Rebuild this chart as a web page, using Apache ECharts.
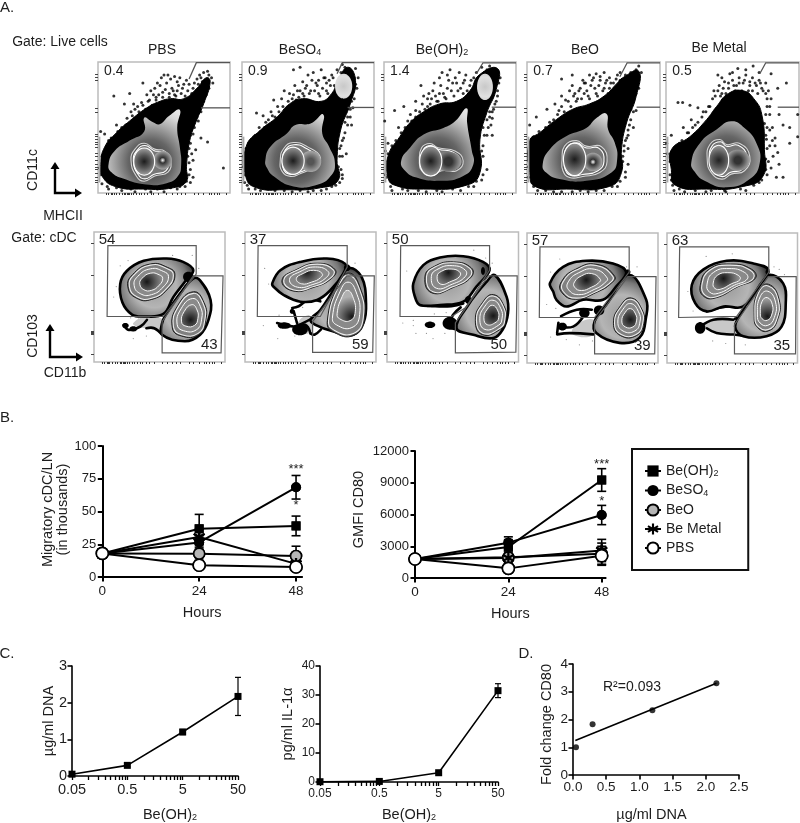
<!DOCTYPE html>
<html><head><meta charset="utf-8"><title>Chart</title>
<style>html,body{margin:0;padding:0;background:#fff}#c{width:800px;height:823px}</style>
<script src="https://cdn.jsdelivr.net/npm/echarts@6/dist/echarts.min.js"></script></head>
<body><div id="c"></div>
<script>
/* ---------- Panel B data ---------- */
const hours=[0,24,48];
const seriesNames=['Be(OH)2','BeSO4','BeO','Be Metal','PBS'];
const migBeOH=[18,36.8,39], migBeOHErr=[3.5,11,7.5];
const migBeSO=[18,26.4,68.5], migBeSOErr=[3.5,5,9];
const migBeO=[18,17.8,16], migBeOErr=[3.5,5,7.5];
const migMetal=[18,30.5,10], migMetalErr=[3.5,6,3];
const migPBS=[18,9,7.6], migPBSErr=[3.5,1.5,1.5];
const cd80BeOH=[1800,2930,9260], cd80BeOHErr=[150,700,1070];
const cd80BeSO=[1800,3340,5950], cd80BeSOErr=[150,550,910];
const cd80BeO=[1800,1950,2300], cd80BeOErr=[150,500,1000];
const cd80Metal=[1800,1900,2600], cd80MetalErr=[150,300,1050];
const cd80PBS=[1800,910,2100], cd80PBSErr=[150,200,900];
/* ---------- Panel C / D data ---------- */
const doses=[0.05,0.5,5,50];
const doseLabels=[0.05,0.5,5,50];
const doseTicks=[0.05,0.1,0.15,0.2,0.25,0.3,0.35,0.4,0.45,0.5,1,1.5,2,2.5,3,3.5,4,4.5,5,10,15,20,25,30,35,40,45,50];
const dnaVals=[0.05,0.29,1.2,2.17], dnaErr=[0.03,0.04,0.07,0.52];
const il1Vals=[0.1,0.2,3.2,31.5], il1Err=[0.1,0.1,0.3,2.4];
const foldX=[0.045,0.295,1.195,2.16], foldY=[1,1.83,2.33,3.31];
const fitX=[0.035,2.16], fitY=[1.24,3.31];
/* ---------- Panel A, live-cell gate (axis units 0-100) ---------- */
const pctLive=['0.4','0.9','1.4','0.7','0.5'];
const titlesLive=['PBS','BeSO{s|4}','Be(OH){s|2}','BeO','Be Metal'];
const pbsCloud=[[2,22],[5,35],[14,46],[24,55],[37,65],[47,70],[55,72],[65,72],[75,80],[82,88],[85,85],[80,68],[74.5,55],[69.5,40],[67,20],[67,9],[57,4],[34,3],[13,5],[3,13]];
const pbsBlob=[[8,22],[12.6,32],[24,40],[35,47],[35,57.5],[41.7,54],[46.7,52.5],[54,59],[62,63.5],[60,50],[62,35],[63,22],[60.6,13],[52,7.5],[36.6,6.5],[19,11],[10,16]];
const pbsRing=[[25,25],[28,33.5],[35,38],[43,33.5],[50.5,32],[55,25],[53,16],[43,13],[35,9],[29,13]];
const pbsDots=[[2,47],[5,45],[12,74],[24,76],[34,84],[20,68],[27,68],[8,40],[14,52],[18,50],[22,57],[25,62],[30,66],[33,69],[37,75],[40,78],[43,80],[45,84],[48,88],[50,90],[53,90],[55,87],[58,89],[60,85],[62,88],[65,83],[67,86],[47,82],[52,84],[56,80],[60,78],[64,80],[68,78],[72,80],[75,87],[78,88],[80,92],[83,93],[86,88],[87,84],[84,80],[82,75],[80,70],[78,62],[75,58],[73,50],[72,45],[70,38],[71,30],[72,25],[70,18],[72,12],[70,8],[66,5],[60,3],[50,1],[40,1],[28,1],[18,2],[8,3],[83,39],[95,19],[78,42],[76,55],[74,33],[42,75],[49,77],[54,76],[58,75],[38,70],[44,73],
 [26,59],[28,64],[31,62],[34,67],[36,64],[39,71],[41,67],[44,71],[46,75],[49,73],[51,79],[54,73],[57,78],[59,74],[61,82],[63,76],[66,74],[69,83],[71,76],[73,84],[76,83],[77,90],[79,85],[81,86],[83,84],[84,90],[82,80],[80,76],[79,72],[77,66],[75,68],[76,62],[74,58],[72,55],[71,48],[70,44],[69,34],[68,28],[69,23],[69,14],[67,9],[62,5],[55,4],[45,3],[36,3],[25,3],[14,4],[7,5],[3,7],[2,14],[1,19],[3,28],[5,31],[8,37],[10,42],[15,47],[18,45],[21,52],[28,57],[32,59]];
const beso4Cloud=[[3,35],[14,48],[26.6,58],[36,68],[46,72],[60,70],[68,76],[72,84],[80,96],[86,86],[82,68],[74.7,48],[72,25],[73,10],[59.5,4],[31.6,2.5],[11,4],[3,12]];
const beso4Blob=[[17.7,25],[21.5,35.4],[34,45.5],[40.5,52],[52,53],[61.5,60],[60.8,45.5],[66,35.4],[70.4,22.8],[67,12.7],[57,6.3],[39,5],[24,12.7],[19,19]];
const beso4Ring=[[29,25],[31.6,34],[39,38.5],[49.4,35.4],[59.5,26.6],[53,19],[44,14.7],[36.7,12.7],[30.4,16.5]];
const beso4Dots=[[11,61],[16,59],[9,43],[5,38],[24,71],[32,78],[39,94],[44,96],[50,90],[46,85],[40,82],[36,76],[30,72],[27,66],[22,62],[18,54],[13,50],[54,92],[58,86],[60,94],[64,84],[68,90],[72,94],[70,82],[76,98],[86,95],[88,88],[87,80],[85,72],[84,65],[82,58],[80,52],[78,46],[76,40],[74,34],[76,28],[73,20],[76,14],[74,8],[68,5],[60,2],[50,1],[38,1],[25,2],[14,2],[5,3],[2,8],[1,20],[3,30],[62,88],[66,86],[56,84],[48,80],[83,52],[79,30],[83,70],[42,78],[52,78],[58,76],[64,78],[38,72],[46,76],
 [25,58],[28,62],[31,66],[33,62],[35,70],[37,66],[39,75],[41,71],[44,78],[43,73],[47,74],[49,82],[51,76],[53,86],[55,78],[57,82],[59,74],[61,80],[63,88],[65,76],[67,82],[69,88],[71,78],[73,86],[75,92],[78,96],[83,92],[85,88],[86,83],[84,78],[83,74],[82,64],[80,58],[78,54],[77,42],[75,36],[74,28],[75,18],[76,11],[71,6],[64,3],[54,2],[44,2],[32,2],[20,3],[10,3],[4,6],[2,14],[1,28],[3,34],[6,38],[10,44],[14,47],[17,50],[20,56],[23,59]];
const beohCloud=[[3,28],[12,43],[20,54],[30,62],[42,68],[55,70],[65,78],[72,90],[86,95],[85,79],[77.8,61],[72.7,41],[72.7,15.6],[62.6,6],[30,3],[8,6],[3,12]];
const beohBlob=[[13,24.4],[19.7,34.5],[30,44.6],[45,49.6],[53.8,54.7],[62.6,64.7],[63,53.4],[66.4,33],[67.7,22],[60,13],[42.4,9.3],[24.7,11.8],[16,17]];
const beohRing=[[26.8,24.4],[28.5,34.5],[34.8,37.8],[41,34.5],[53.8,32],[60,24.4],[55,17],[43.7,17],[36,13],[28.5,17]];
const beohDots=[[3,38],[8,63],[11,50],[15,66],[18,55],[20,60],[24,70],[28,82],[34,76],[30,74],[38,84],[42,88],[44,92],[48,90],[50,94],[54,88],[57,92],[60,84],[62,90],[66,86],[70,92],[74,96],[80,97],[84,94],[88,88],[86,74],[84,68],[82,62],[80,58],[79,50],[82,57],[81,52],[75,50],[78,44],[82,44],[75,36],[75,28],[78,18],[74,10],[68,5],[58,2],[44,1],[32,1],[18,2],[6,2],[1,14],[36,72],[42,76],[48,80],[52,84],[56,78],[60,76],[40,70],[46,73],[24,63],[33,66],[1,32],[0.5,55],
 [24,58],[27,62],[29,68],[31,64],[33,72],[35,68],[37,78],[39,74],[41,70],[43,82],[45,76],[47,72],[49,86],[51,78],[53,74],[55,84],[58,80],[61,86],[63,78],[65,82],[68,88],[70,84],[72,80],[76,92],[78,94],[82,92],[85,90],[87,84],[86,78],[85,70],[83,64],[80,62],[78,56],[76,44],[74,32],[73,22],[75,14],[70,9],[64,5],[52,3],[40,2],[26,2],[14,3],[5,5],[2,12],[2,20],[3,30],[6,36],[9,40],[13,46],[16,50],[21,55]];
const beoCloud=[[2,40],[9.3,45.8],[22,56],[34.5,64],[47,68],[58,74],[68,84],[72,88],[84,93],[82,73.5],[74.8,53.4],[71,33],[71,15.6],[62,5],[29.5,3],[6,5],[2,15.6]];
const beoBlob=[[11.8,22],[16.9,33],[29.5,43.3],[44.6,49.6],[52,57],[59.7,60.5],[61,48.4],[66,38.3],[67.8,25.7],[63.5,15.6],[44.6,9.3],[24.4,10.6],[14.4,15.6]];
const beoRing=[[26.4,25.7],[28.2,35.8],[37,40],[44.6,35.8],[56,35.3],[60.2,24],[54.7,15.6],[42,12.6],[32,11.8],[27,17]];
const beoDots=[[7,58],[15,64],[21,68],[26,74],[29,71],[32,78],[34,82],[26,87],[34,90],[24,63],[36,76],[40,80],[42,86],[44,84],[47,90],[50,88],[52,91],[55,89],[58,92],[60,86],[62,88],[65,84],[67,87],[38,72],[43,76],[48,82],[54,82],[58,80],[62,80],[46,74],[52,76],[70,92],[84,97],[86,92],[84,80],[80,62],[78,56],[76,48],[76,44],[80,50],[74,40],[73,32],[76,22],[74,12],[68,5],[58,2],[46,1],[34,1],[20,1],[8,2],[1,25],[2,52],[75,64],[82,63],[72,28],[76,34],
 [20,56],[23,60],[26,66],[28,62],[31,70],[33,66],[35,74],[37,70],[39,78],[41,72],[43,84],[45,78],[47,72],[49,86],[51,80],[53,74],[55,86],[57,78],[59,84],[61,76],[63,84],[66,80],[68,90],[70,86],[74,90],[78,92],[82,94],[84,88],[83,82],[82,76],[80,70],[78,64],[77,52],[75,42],[73,36],[72,24],[74,16],[70,9],[64,5],[52,2],[40,2],[26,1],[14,2],[5,5],[1,12],[1,20],[1,30],[2,38],[5,43],[9,47],[14,50],[17,54]];
const metalCloud=[[4,33],[18,43],[30.5,56],[38,66],[47,76],[58,78],[66,72],[72,60],[74,33],[73,13],[58,5],[30.5,3],[7,6],[4,18]];
const metalBlob=[[19,23],[25.5,38],[38,48.4],[49,54.7],[59,49.6],[68,38],[70.5,23],[63,10.6],[45.5,4.3],[29,9.3],[22,15.6]];
const metalRing=[[31,25.7],[33,37],[40.5,40.8],[45.5,37],[55.5,37.8],[63,28],[59,17],[49,14.4],[42,10.6],[34,15.6]];
const metalDots=[[9,69],[12.5,69],[18,67],[24,65],[28,62],[19,56],[13,50],[39,90],[48,91],[54,95],[65.5,97],[79,91],[90.5,84],[84,80],[99,60],[93,50],[99,43],[93,38],[84,31],[88,12],[83,12],[79,19],[80.5,28],[75.5,41],[74,53],[78,66],[36,78],[40,82],[44,85],[47,80],[50,86],[53,82],[55,88],[58,84],[60,90],[63,85],[65,88],[68,82],[70,86],[72,80],[75,84],[77,78],[76,72],[78,60],[80,50],[78,36],[77,24],[76,14],[82,42],[85,22],[70,8],[60,2],[45,1],[30,1],[14,1],[6,2],[4,10],[5,26],[10,38],[16,46],[22,52],[32,66],[42,76],[52,78],[62,78],[0.5,38],[1,30],
 [24,54],[27,58],[30,62],[33,66],[35,72],[37,74],[39,78],[41,74],[43,80],[45,76],[47,84],[49,76],[51,82],[53,76],[55,84],[57,78],[59,86],[61,76],[63,82],[65,78],[67,84],[69,76],[71,84],[73,78],[75,76],[76,66],[75,60],[76,50],[75,44],[76,34],[75,26],[75,18],[72,10],[66,6],[56,3],[44,2],[34,2],[22,2],[10,3],[5,6],[3,14],[3,24],[4,30],[8,36],[12,40],[17,46],[20,50],[80,40],[78,48],[82,36],[79,72],[70,92],[60,94],[50,92],[42,88],[85,60],[88,52],[4,44]];
const lobesLive=[
 [[35,24],4.5,7,'#1c1c1c','#a8a8a8'],[[49,25],4,4,'#fff','#333'],
 [[38.7,24.6],5,7,'#1c1c1c','#9a9a9a'],[[52,24],5,5,'#555','#9a9a9a'],
 [[35.4,24.4],5,8,'#1c1c1c','#a0a0a0'],[[48.7,24],7,4.5,'#333','#a0a0a0'],
 [[35.8,25.7],5,9,'#1c1c1c','#a0a0a0'],[[49.6,23.7],4,4,'#fff','#444'],
 [[39.7,25],4,8,'#222','#a0a0a0'],[[54,25],6,5,'#333','#a0a0a0']];
const popGate=[null,[77,81.5,6.5,9.5],[76.5,81,6,10],null,null];
const gateTop=[[[69,87],[74.5,99.5],[100,99.5]],[[72,91],[76,99.5],[100,99.5]],[[70,91],[75,99.4],[100,99.4]],[[69.8,88.7],[75.3,99.4],[100,99.4]],[[70.5,91],[75,99.4],[100,99.4]]];
const gateMid=[[[78,65],[100,65]],[[80,65.3],[100,65.3]],[[81.6,65.5],[100,65.5]],[[82.4,65.5],[100,65.5]],[[84,65.5],[100,65.5]]];
/* ---------- Panel A, cDC gate (axis units 0-100) ---------- */
const pctUpper=['54','37','50','57','63'], pctLower=['43','59','50','39','35'];
const upperPctPos=[[10,94],[10,94],[10,94],[10,94],[10,94]];
const lowerPctPos=[[88,13],[88,13],[85,13],[88,13],[88,13]];
const dc1LobeA=[[20,60],[25,70],[38,77.8],[55.5,79.6],[68,77],[75.8,70.6],[69.4,61.7],[60.6,50],[53,37],[38,35],[29,36.5],[21.7,45.7]];
const dc1LobeB=[[75.8,64.3],[80.8,63],[89,47.7],[87.4,32.4],[81,21],[69.4,16],[52,21],[52,30],[55.5,37.5],[65.6,52.6]];
const dc1RingA=[[27,58],[30.3,66.8],[43,74.5],[55.5,72],[60.6,66.8],[55.5,56.6],[44,49],[33,50]];
const dc1RingB=[[60.6,27.3],[64.4,42.6],[75.8,52.8],[83.3,45],[84.6,32.4],[79.5,22],[67,21]];
const dc2LobeA=[[20.8,60.5],[27,70.6],[42.3,77],[62.5,79.6],[76.5,75.5],[75,68],[65,55],[55,47.7],[42.3,46.4],[29.6,51.5],[22,57.7]];
const dc2LobeB=[[79,72],[89,65.5],[92.4,45],[90.4,30],[82.8,21],[67.6,23.5],[53.7,28.6],[50,32.4],[57.5,40],[67.6,55.4]];
const dc2RingA=[[29.6,63],[39.7,70.6],[55,75.3],[67.6,70.6],[65,64.3],[52.4,58],[37.2,55.4]];
const dc2RingB=[[63.8,32.4],[71.4,58],[79,66.8],[86.6,58],[90.4,35],[82.8,22],[67.6,24.7]];
const dc3LobeA=[[20,60.5],[27.6,74.5],[40.3,80.4],[58,81.4],[73,77],[78,70.7],[68,58],[58,46.4],[40.3,43.9],[25,43.9],[21.3,50]];
const dc3LobeB=[[82,66.8],[91,50],[92,37.5],[88,25],[80.8,18.4],[65.6,21],[52.9,26],[61.8,43.9],[75.7,61.7]];
const dc3RingA=[[30,65.5],[36.5,73],[50.4,76.3],[63,72],[63,65.5],[50.4,58],[35,54]];
const dc3RingB=[[68,32.4],[73,45],[80.8,50.8],[88.4,42.6],[89.6,32.4],[86,26],[73,22]];
const dc4LobeA=[[17.5,61.3],[27.6,74],[45.3,78.6],[65.6,76.6],[75.7,70],[68,58.8],[58,48.6],[42.8,48.6],[30,43.5],[22.5,48.6],[20,55]];
const dc4LobeB=[[78,67.7],[91,48.6],[91,35.9],[85.8,19.3],[70.6,15.5],[52.9,23],[51.6,32],[60.5,44.8]];
const dc4RingA=[[27.6,62.6],[37.7,71.5],[52.9,75],[65.6,66.4],[63,61.3],[52.9,55],[37.7,49.9],[27.6,55]];
const dc4RingB=[[66.8,30.8],[71.9,43.5],[79.5,49],[87,41],[88.4,30.8],[83.3,21.9],[71.9,21.9]];
const dc5LobeA=[[19,60],[28,72],[45.8,78.6],[66.2,76.6],[77.6,71.5],[71.2,60],[58.5,43.5],[43.3,43.5],[30.5,39.7],[21.6,46]];
const dc5LobeB=[[77.6,67.7],[89,61.3],[91,46],[87.8,28],[76.3,20.6],[58.5,20.6],[52.2,28],[58.5,41],[66.2,55]];
const dc5RingA=[[26.7,60],[33,71.5],[48.3,75.3],[63.6,71.5],[66.2,65],[53.4,58.8],[38,51],[29.3,52]];
const dc5RingB=[[67.4,35.9],[70,53.7],[77.6,59.3],[85.2,48.6],[84,33.3],[77.6,25.7],[70,28]];
const coreA=[[40.4,61.7],[47.3,69.4],[46.6,68.9],[45.3,63.9],[43.3,65]];
const coreB=[[73.7,32.4],[81.5,35],[80.8,35.5],[79,33.3],[77,35.9]];
const gateUpper=[[[10.6,89.5],[78,89.5],[78,67.6],[53,35],[10,35]],[[10,89.5],[78,89.5],[78,73],[57.5,35],[9.4,35]],[[10.4,89.5],[78,89.5],[78,70.7],[60,42],[49,35],[9.9,35]],[[9.9,89.3],[78,89.3],[78,70],[51.6,35],[9.4,35]],[[9.7,89.3],[78,89.3],[78,70],[53.4,35.9],[8.9,35]]];
const gateLower=[[[75.8,66.3],[98.5,66.3],[97,7],[52,7],[52,31]],[[77.7,66.3],[98.7,66.3],[97.5,7.4],[51.6,7.4],[51.6,31]],[[77,66.3],[99,66.3],[98,7.6],[52,7],[52,30]],[[77,66.4],[98.5,66.4],[97.5,7],[51.6,7],[51.6,32]],[[77.6,66.4],[99,66.4],[98.5,7],[51.7,7],[51.7,29.5]]];
const tailFill=[[[30,30],[40.4,35],[52,33],[52,25],[40,26],[33,27]],[[40,29],[48,36],[51,32],[51,24],[44,22]],[],[[35,22],[37.7,29.5],[51.6,33],[51.6,22]],[[25.4,28],[35.6,33.3],[50.9,33.3],[53.4,28],[50.9,21.9],[38,23],[30.5,26.7]]];
const blackBlobs=[
 [[72,65.5,4,4],[24,28,2.5,2],[30,25.5,3,2]],
 [[78,72.5,2.5,2.5],[30,28,5,2.5],[42,25,6,4.5],[36,39,1.8,2]],
 [[61.8,47.7,2.5,3],[32.7,28.6,4,2.5],[47.8,29.8,5.5,5],[73,70,1.5,3]],
 [[55,40.5,4,3.8],[43.8,38.4,4,3.5],[27,28,3.5,3],[77,70,2,2]],
 [[25.4,27,4,4.5],[77,70,1.5,2]]];
const blackStrokes=[
 [[[22.7,28.5],[26.5,24.7],[35.4,27.3],[40.4,32.4]],[[52,21],[46,26],[40,26]]],
 [[[36,41.6],[41,42.9],[48.6,48],[57.5,46.7]],[[37.2,39],[39.7,30]],[[38.5,27.3],[53.7,35],[57.5,39]],[[24.5,30],[37.2,27.3],[46,28.6],[50,22]],[[50,22],[53,21],[58,25]]],
 [[[25,43.9],[34,43],[49,43],[58,45]],[[56,42],[50,36],[48,30]],[[49,26],[52.9,25]]],
 [[[26,36],[38,41],[49.5,41]],[[25,28],[35.2,28],[43,35.8]],[[23,22],[32.6,23],[50.6,22]],[[24,31],[23,23]]],
 [[[30.5,39.7],[43,43],[58,43],[60,38],[52,34]],[[25.4,28],[35.6,33.3],[50.9,33.3]],[[30.5,26.7],[38,23],[50.9,21.9],[58,21]]]];
const faintDots=[
 [[17,58],[20,74],[26,78],[28,34],[30,18],[45,30],[60,82],[80,72],[15,50],[40,20],[34,33],[75,82]],
 [[15,72],[18,60],[20,35],[25,18],[26,36],[38,20],[60,80],[84,76],[30,35],[14,28],[44,42]],
 [[15,70],[20,32],[22,22],[26,35],[30,22],[35,18],[40,35],[44,22],[50,35],[20,28],[75,80],[80,76],[66,86],[12,30],[36,37],[45,38]],
 [[18,70],[25,80],[15,45],[18,20],[30,18],[40,14],[50,17],[22,42],[76,74],[84,74]],
 [[16,55],[20,40],[30,82],[45,15],[82,74],[86,72],[90,68],[35,17],[60,14],[50,84]]];
/* flow axis tick positions */
const flowXTicks=[6,8,10,11,12,14,16,18,20,21,22,23,24,25,27,29,31,33,35,37,40,42,46,52,56,60,63,66,73,76,80,84,86,88,90,92,97];
const liveYTicks=[91,88,86,65,62,45,43,41,39,37,35,30,28,25,22,20,18,15,12,10,8];
const dcYTicks=[91,67,40,24,23,22,21,5.6];
const mainSymbols=['rect','circle','circle','path://M5 0h2v3.7l3.2-1.9 1 1.7L8 5.5l3.2 2-1 1.7L7 7.3V11H5V7.3L1.800 9.200l-1-1.700L4 5.500.8 3.500l1-1.700L5 3.700z','circle'];
const mainSizes=[9,10,11,12,12];
const mainFill=['#000','#000','#b5b5b5','#000','#fff'];
const FONT='"Liberation Sans",Arial,sans-serif', INK='#1d1d1d';
const subRich={s:{fontSize:9,fontFamily:FONT,color:INK,verticalAlign:'bottom',padding:[6,0,0,0]}};

/* ---------- layout ---------- */
const liveFrames=[[98,132],[242,132],[384,132],[527,133],[666,133]];
const dcFrames=[[94,131],[245,131],[387,131.5],[527,131],[667,130.5]];
const liveParts=[[pbsCloud,pbsBlob,pbsRing,pbsDots],[beso4Cloud,beso4Blob,beso4Ring,beso4Dots],[beohCloud,beohBlob,beohRing,beohDots],[beoCloud,beoBlob,beoRing,beoDots],[metalCloud,metalBlob,metalRing,metalDots]];
const dcParts=[[dc1LobeA,dc1LobeB,dc1RingA,dc1RingB],[dc2LobeA,dc2LobeB,dc2RingA,dc2RingB],[dc3LobeA,dc3LobeB,dc3RingA,dc3RingB],[dc4LobeA,dc4LobeB,dc4RingA,dc4RingB],[dc5LobeA,dc5LobeB,dc5RingA,dc5RingB]];

function scaled(p,c,f){return p.map(q=>[c[0]+(q[0]-c[0])*f,c[1]+(q[1]-c[1])*f]);}
function ell(c,rx,ry){const o=[];for(let i=0;i<28;i++){const a=i/28*Math.PI*2;o.push([c[0]+rx*Math.cos(a),c[1]+ry*Math.sin(a)]);}return o;}
function centre(p){let x=0,y=0;p.forEach(q=>{x+=q[0];y+=q[1]});return [x/p.length,y/p.length];}
function rg(api,c,rPx,stops){const k=api.coord(c);return new echarts.graphic.RadialGradient(k[0],k[1],rPx,stops.map(s=>({offset:s[0],color:s[1]})),true);}
function pg(api,pts,style,smooth){return {type:'polygon',shape:{points:pts.map(p=>api.coord(p)),smooth:smooth===undefined?0.5:smooth},style:style};}
function pl(api,pts,stroke,w){return {type:'polyline',shape:{points:pts.map(p=>api.coord(p)),smooth:0.4},style:{fill:null,stroke:stroke,lineWidth:w,lineJoin:'round',lineCap:'round'}};}
function gl(api,pts,stroke,w){return {type:'polyline',shape:{points:pts.map(p=>api.coord(p))},style:{fill:null,stroke:stroke,lineWidth:w}};}
function tx(api,p,t,size){const k=api.coord(p);return {type:'text',x:k[0],y:k[1],style:{text:t,fill:INK,font:size+'px '+FONT,align:'center',verticalAlign:'middle'}};}

function liveRender(i){return function(params,api){
  const [cloud,blob,ring]=liveParts[i], kids=[];
  const L=lobesLive[i*2],R=lobesLive[i*2+1], rc=centre(ring);
  kids.push(pg(api,cloud,{fill:'#000',stroke:'#000',lineWidth:1}));
  kids.push(pg(api,[[.4,8],[1.8,8],[1.8,43],[.4,43]],{fill:'#aaa'},0));
  if(popGate[i]){const g=popGate[i];kids.push(pg(api,ell([g[0],g[1]],g[2],g[3]),{fill:rg(api,[g[0],g[1]],14,[[0,'#c8c8c8'],[.7,'#e0e0e0'],[1,'#cfcfcf']])}));}
  kids.push(pg(api,blob,{fill:rg(api,rc,56,[[0,'#333'],[.4,'#666'],[.65,'#a4a4a4'],[.88,'#d8d8d8'],[1,'#e6e6e6']])}));
  kids.push(pg(api,ring,{fill:'#5c5c5c',stroke:'#d5d5d5',lineWidth:1.1}));
  kids.push(pg(api,scaled(ring,rc,.88),{fill:'#777',stroke:'#fff',lineWidth:1.1}));
  kids.push(pg(api,ell(R[0],R[1]+3,R[2]+3),{fill:rg(api,R[0],Math.max(R[1],R[2])*1.32+4,[[0,R[3]],[.3,R[4]==='#333'||R[4]==='#444'?'#333':R[3]],[1,'#a8a8a8']])}));
  kids.push(pg(api,ell(L[0],L[1]+3.4,L[2]+3.4),{fill:rg(api,L[0],Math.max(L[1],L[2])*1.32+5,[[0,L[3]],[.45,'#555'],[1,L[4]]]),stroke:'#fff',lineWidth:1.1}));
  kids.push(gl(api,gateTop[i],'#555',1.3));
  kids.push(gl(api,gateMid[i],'#555',1.3));
  kids.push(tx(api,[12,93],pctLive[i],14));
  return {type:'group',children:kids};
};}
function lobe(api,kids,poly,ring,c){
  const pc=centre(poly);
  kids.push(pg(api,poly,{fill:rg(api,pc,48,[[0,'#999'],[.45,'#b5b5b5'],[.72,'#777'],[.92,'#222'],[1,'#000']]),stroke:'#000',lineWidth:2.6,lineJoin:'round'},.4));
  const rc=centre(ring);
  kids.push(pg(api,scaled(ring,rc,1.07),{fill:'#5a5a5a',stroke:'#222',lineWidth:1}));
  kids.push(pg(api,ring,{fill:'#808080',stroke:'#eee',lineWidth:1.1}));
  kids.push(pg(api,scaled(ring,rc,.78),{fill:'#8a8a8a',stroke:'#fff',lineWidth:1}));
  kids.push(pg(api,scaled(ring,rc,.52),{fill:rg(api,c,20,[[0,'#161616'],[.5,'#666'],[1,'#b0b0b0']]),stroke:'#f5f5f5',lineWidth:1}));
}
function dcRender(i){return function(params,api){
  const [la,lb,ra,rb]=dcParts[i], kids=[];
  if(tailFill[i].length)kids.push(pg(api,tailFill[i],{fill:'#c8c8c8'}));
  blackStrokes[i].forEach(s=>kids.push(pl(api,s,'#000',2.6)));
  lobe(api,kids,lb,rb,coreB[i]);
  lobe(api,kids,la,ra,coreA[i]);
  blackBlobs[i].forEach(b=>kids.push(pg(api,ell([b[0],b[1]],b[2],b[3]),{fill:'#000'})));
  kids.push(pg(api,gateUpper[i],{fill:null,stroke:'#5a5a5a',lineWidth:1.2},0));
  kids.push(pg(api,gateLower[i],{fill:null,stroke:'#5a5a5a',lineWidth:1.2},0));
  kids.push(tx(api,upperPctPos[i],pctUpper[i],15));
  kids.push(tx(api,lowerPctPos[i],pctLower[i],15));
  return {type:'group',children:kids};
};}

const grid=[],xAxis=[],yAxis=[],series=[];
function flowAxes(yt){
  const idx=grid.length-1;
  const common={type:'value',min:0,max:100,gridIndex:idx,splitLine:{show:false},axisLine:{show:false},axisLabel:{show:false}};
  xAxis.push({...common,axisTick:{show:true,length:2,lineStyle:{color:'#333',width:1},customValues:flowXTicks}});
  yAxis.push({...common,axisTick:{show:true,length:3,lineStyle:{color:'#444',width:1},customValues:yt}});
  return idx;
}
liveFrames.forEach((f,i)=>{
  grid.push({left:f[0],top:62,width:f[1],height:131,show:true,borderColor:'#bcbcbc',borderWidth:1.5,backgroundColor:'#fff'});
  const ix=flowAxes(liveYTicks);
  series.push({name:'dots',type:'scatter',xAxisIndex:ix,yAxisIndex:ix,data:liveParts[i][3],symbolSize:3,itemStyle:{color:'#000'},z:2,silent:true,animation:false});
  series.push({name:'flow',type:'custom',xAxisIndex:ix,yAxisIndex:ix,data:[[50,50]],renderItem:liveRender(i),z:3,clip:false,silent:true,animation:false});
});
dcFrames.forEach((f,i)=>{
  grid.push({left:f[0],top:i>2?233:232,width:f[1],height:130,show:true,borderColor:'#bcbcbc',borderWidth:1.5,backgroundColor:'#fff'});
  const ix=flowAxes(dcYTicks);
  series.push({name:'dots',type:'scatter',xAxisIndex:ix,yAxisIndex:ix,data:faintDots[i],symbolSize:1.2,itemStyle:{color:'#777'},z:2,silent:true,animation:false});
  series.push({name:'flow',type:'custom',xAxisIndex:ix,yAxisIndex:ix,data:[[50,50]],renderItem:dcRender(i),z:3,clip:false,silent:true,animation:false});
});

function plotAxis(g,opt,size,lw){
  return Object.assign({type:'value',gridIndex:g,splitLine:{show:false},nameMoveOverlap:false,
    axisLine:{show:true,onZero:false,lineStyle:{color:'#000',width:lw}},
    axisTick:{show:true,length:4.5,lineStyle:{color:'#000',width:lw}},
    axisLabel:{color:INK,fontSize:size,fontFamily:FONT,margin:6},
    nameLocation:'middle',nameTextStyle:{color:INK,fontSize:14.5,fontFamily:FONT,rich:subRich}},opt);
}
function errSeries(xi,yi,xs,ys,es,capPx,lw,name){
  return {name:name,type:'custom',xAxisIndex:xi,yAxisIndex:yi,clip:false,silent:true,z:2,animation:false,
    data:xs.map((x,i)=>[x,ys[i]-es[i],ys[i]+es[i]]),
    renderItem:function(p,api){
      const a=api.coord([api.value(0),api.value(1)]),b=api.coord([api.value(0),api.value(2)]);
      const st={stroke:'#000',lineWidth:lw};
      return {type:'group',children:[
        {type:'line',shape:{x1:a[0],y1:a[1],x2:b[0],y2:b[1]},style:st},
        {type:'line',shape:{x1:a[0]-capPx,y1:a[1],x2:a[0]+capPx,y2:a[1]},style:st},
        {type:'line',shape:{x1:b[0]-capPx,y1:b[1],x2:b[0]+capPx,y2:b[1]},style:st}]};
    }};
}
function lineSeries(xi,yi,name,xs,ys,sym,size,fill,z,lw){
  return {name:name,type:'line',xAxisIndex:xi,yAxisIndex:yi,data:xs.map((x,i)=>[x,ys[i]]),symbol:sym,symbolSize:size,showSymbol:true,showAllSymbol:true,
    lineStyle:{color:'#000',width:lw},itemStyle:{color:fill,borderColor:'#000',borderWidth:fill==='#000'?0:1.6,opacity:1},z:z,clip:false,animation:false,silent:true};
}
function timePlot(left,top,w,h,xMax,yMax,yInt,sets,errs,yName,gap,size,sigPts,yPad){
  grid.push({left:left,top:top,width:w,height:h});
  const g=grid.length-1, xi=xAxis.length, yi=yAxis.length;
  xAxis.push(plotAxis(g,{min:0,max:xMax,name:'Hours',nameGap:28,axisTick:{show:true,length:4.5,lineStyle:{color:'#000',width:2},customValues:hours},axisLabel:{color:INK,fontSize:size+.5,fontFamily:FONT,margin:7,customValues:hours}},size,2));
  yAxis.push(plotAxis(g,{min:0,max:yMax,interval:yInt,name:yName,nameGap:gap,nameTextStyle:{color:INK,fontSize:14.5,fontFamily:FONT,padding:[0,0,0,yPad]},axisLabel:{color:INK,fontSize:size,fontFamily:FONT,margin:6,formatter:v=>String(v)}},size,2));
  seriesNames.forEach((n,k)=>{
    series.push(errSeries(xi,yi,hours,sets[k],errs[k],4.5,1.6,'err '+n));
    series.push(lineSeries(xi,yi,n,hours,sets[k],mainSymbols[k],mainSizes[k],mainFill[k],5,2));
  });
  seriesNames.forEach((n,k)=>{
    series.push({name:'mark '+n,type:'scatter',xAxisIndex:xi,yAxisIndex:yi,data:hours.map((x,i)=>[x,sets[k][i]]),symbol:mainSymbols[k],symbolSize:mainSizes[k],
      itemStyle:{color:mainFill[k],borderColor:'#000',borderWidth:mainFill[k]==='#000'?0:1.6,opacity:1},z:10+k,clip:false,silent:true,animation:false});
  });
  series.push({name:'sig',type:'custom',xAxisIndex:xi,yAxisIndex:yi,clip:false,silent:true,z:20,animation:false,data:sigPts.map(s=>[48,s[0]]),
    renderItem:function(p,api){return tx(api,[48,api.value(1)],sigPts[p.dataIndex][1],13);}});
}
timePlot(102.3,446,199.8,131,49.5,100,25,[migBeOH,migBeSO,migBeO,migMetal,migPBS],[migBeOHErr,migBeSOErr,migBeOErr,migMetalErr,migPBSErr],'Migratory cDC/LN\n(in thousands)',32,13,[[82,'***'],[55,'*']],4);
timePlot(415,451,190.6,127,49,12000,3000,[cd80BeOH,cd80BeSO,cd80BeO,cd80Metal,cd80PBS],[cd80BeOHErr,cd80BeSOErr,cd80BeOErr,cd80MetalErr,cd80PBSErr],'GMFI CD80',49,13,[[10700,'***'],[7200,'*']],10);

function dosePlot(left,top,w,h,yMax,yInt,vals,errs,yName,gap,size,nameGapX,namePad){
  grid.push({left:left,top:top,width:w,height:h});
  const g=grid.length-1, xi=xAxis.length, yi=yAxis.length;
  xAxis.push(plotAxis(g,{type:'log',logBase:10,min:0.05,max:50,name:'Be(OH){s|2}',nameGap:nameGapX,
    nameTextStyle:{color:INK,fontSize:14.5,fontFamily:FONT,rich:subRich,padding:[0,0,0,namePad]},
    axisTick:{show:true,length:4,lineStyle:{color:'#000',width:1.3},customValues:doseTicks},
    axisLabel:{color:INK,fontSize:size,fontFamily:FONT,margin:6,customValues:doseLabels,formatter:v=>String(+(+v).toPrecision(2))}},size,1.6));
  yAxis.push(plotAxis(g,{min:0,max:yMax,interval:yInt,name:yName,nameGap:gap,axisLabel:{color:INK,fontSize:size,fontFamily:FONT,margin:5}},size,1.6));
  series.push(errSeries(xi,yi,doses,vals,errs,3,1.2,'err'));
  series.push(lineSeries(xi,yi,'dose',doses,vals,'rect',7,'#000',5,1.6));
}
dosePlot(72,666,166,110,3,1,dnaVals,dnaErr,'µg/ml DNA',16,14.5,31,30);
dosePlot(320,666,178,116,40,10,il1Vals,il1Err,'pg/ml IL-1α',25,12,25,0);

grid.push({left:573,top:664,width:166,height:111});
const dG=grid.length-1, dX=xAxis.length, dY=yAxis.length;
xAxis.push(plotAxis(dG,{min:0,max:2.5,interval:.5,name:'µg/ml DNA',nameGap:32,nameTextStyle:{color:INK,fontSize:14.5,fontFamily:FONT,padding:[0,9,0,0]},axisLabel:{color:INK,fontSize:13.5,fontFamily:FONT,margin:5,formatter:v=>v.toFixed(1)}},13.5,1.6));
yAxis.push(plotAxis(dG,{min:0,max:4,interval:1,name:'Fold change CD80',nameGap:19,nameTextStyle:{color:INK,fontSize:14.5,fontFamily:FONT,padding:[0,10,0,0]},axisLabel:{color:INK,fontSize:13.5,fontFamily:FONT,margin:5}},13.5,1.6));
series.push({name:'fit',type:'line',xAxisIndex:dX,yAxisIndex:dY,data:fitX.map((x,i)=>[x,fitY[i]]),symbol:'none',lineStyle:{color:'#000',width:1.6},clip:false,animation:false,silent:true});
series.push({name:'fold',type:'scatter',xAxisIndex:dX,yAxisIndex:dY,data:foldX.map((x,i)=>[x,foldY[i]]),symbolSize:6,itemStyle:{color:'#000'},clip:false,animation:false,silent:true});

/* text labels and arrows */
function label(text,x,y,size,opt){return Object.assign({type:'text',z:50,x:x,y:y,style:{text:text,fill:INK,font:size+'px '+FONT,align:'center',verticalAlign:'middle',rich:subRich}},opt||{});}
const graphics=[
  label('A.',7,8,15),label('B.',7,418,15),label('C.',7,654,15),label('D.',526,654,15),
  label('Gate: Live cells',60,42,14),label('Gate: cDC',44,238,14),
  label('R²=0.093',632,687,14),
  label('CD11c',33,170,14,{rotation:Math.PI/2}),label('MHCII',63,216,14),
  label('CD103',33,336,14,{rotation:Math.PI/2}),label('CD11b',65,373,14),
];
titlesLive.forEach((t,i)=>{const xs=[162,300,442,585,719],ys=[50,50,50,50,48];graphics.push(label(t,xs[i],ys[i],14));});
[[55,163,55,193,82,193],[50,325,50,357,83,357]].forEach(a=>{
  graphics.push({type:'polyline',z:50,shape:{points:[[a[0],a[1]+4],[a[2],a[3]],[a[4]-4,a[5]]]},style:{fill:null,stroke:'#000',lineWidth:2.4}});
  graphics.push({type:'polygon',z:50,shape:{points:[[a[0]-4.5,a[1]+6],[a[0],a[1]-1],[a[0]+4.5,a[1]+6]]},style:{fill:'#000'}});
  graphics.push({type:'polygon',z:50,shape:{points:[[a[4]-7,a[5]-4.5],[a[4],a[5]],[a[4]-7,a[5]+4.5]]},style:{fill:'#000'}});
});

const chart=echarts.init(document.getElementById('c'),null,{renderer:'canvas'});
chart.setOption({animation:false,backgroundColor:'#fff',grid:grid,xAxis:xAxis,yAxis:yAxis,series:series,graphic:{elements:graphics},
  legend:{show:true,data:seriesNames,orient:'vertical',left:632,top:449,padding:[15,27,15,12],itemWidth:16,itemHeight:14,itemGap:5,borderColor:'#111',borderWidth:2,selectedMode:false,
    textStyle:{color:INK,fontSize:14,fontFamily:FONT,rich:subRich},
    formatter:n=>n==='Be(OH)2'?'Be(OH){s|2}':n==='BeSO4'?'BeSO{s|4}':n}});
</script></body></html>
